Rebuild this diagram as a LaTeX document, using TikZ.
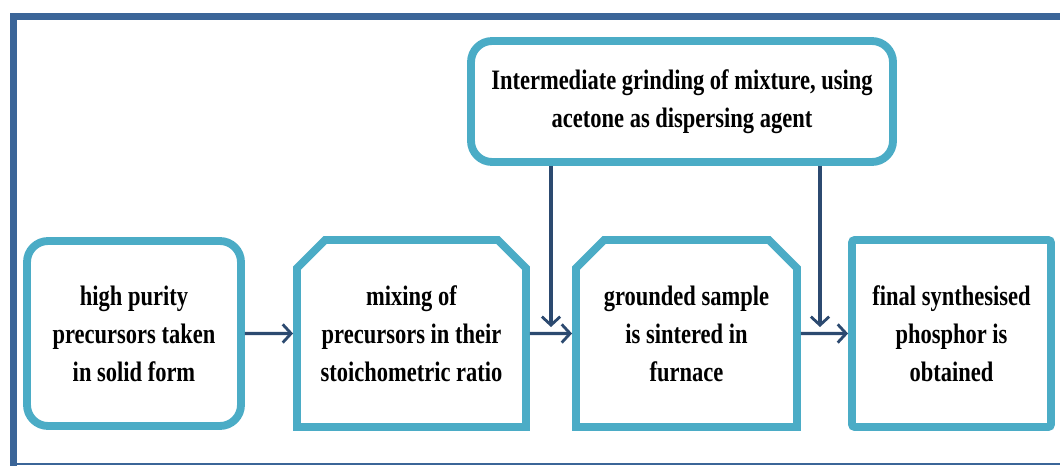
\documentclass[tikz,border=0pt]{standalone}
\usepackage{fontspec}
\setmainfont{Liberation Serif}[FakeStretch=0.8]
\usetikzlibrary{arrows.meta, shapes.misc, shadows}
\definecolor{frameblue}{RGB}{59,101,152}
\definecolor{stepteal}{RGB}{75,172,198}
\definecolor{arrnavy}{RGB}{44,74,112}

\begin{document}
\begin{tikzpicture}[
  x=0.025cm, y=-0.025cm,
  font=\fontsize{20}{27}\selectfont\bfseries,
  box/.style={rectangle, draw=stepteal, line width=5.6pt, fill=white,
              align=center, inner sep=2pt,
              drop shadow={shadow xshift=0.4pt, shadow yshift=-2pt, opacity=0.25}},
  rbox/.style={box, rounded corners=15pt},
  sbox/.style={box, rounded corners=2pt},
  cbox/.style={box, chamfered rectangle,
              chamfered rectangle corners={north west, north east},
              chamfered rectangle xsep=10pt, chamfered rectangle ysep=10pt},
  arr/.style={-{Straight Barb[length=6pt, width=13pt, line width=2pt]},
              line width=2.2pt, draw=arrnavy}
]
\useasboundingbox (0,0) rectangle (1060,466);

% outer frame
\draw[frameblue, line width=5pt] (1060,16.5) -- (13.5,16.5) -- (13.5,466);
\draw[frameblue, line width=1.5pt] (10,464) -- (1060,464);

\node[rbox, minimum width=214*0.025cm, minimum height=185*0.025cm] (prec) at (134,333.5)
  {high purity\\precursors taken\\in solid form};
\node[cbox, minimum width=229*0.025cm, minimum height=187*0.025cm] (mix) at (411.5,333.5)
  {mixing of\\precursors in their\\stoichometric ratio};
\node[cbox, minimum width=221*0.025cm, minimum height=187*0.025cm] (sint) at (686.5,333.5)
  {grounded sample\\is sintered in\\furnace};
\node[sbox, minimum width=199*0.025cm, minimum height=187*0.025cm] (final) at (951.5,333.5)
  {final synthesised\\phosphor is\\obtained};
\node[rbox, minimum width=422*0.025cm, minimum height=121*0.025cm] (grind) at (682,101.5)
  {Intermediate grinding of mixture, using\\acetone as dispersing agent};

\coordinate (g1) at (551,327);
\coordinate (g2) at (820,327);

\draw[arr] (prec) -- (mix);
\draw[arr] (mix) -- (sint);
\draw[arr] (sint) -- (final);
\draw[arr] (grind.south -| g1) -- (g1);
\draw[arr] (grind.south -| g2) -- (g2);
\end{tikzpicture}
\end{document}
